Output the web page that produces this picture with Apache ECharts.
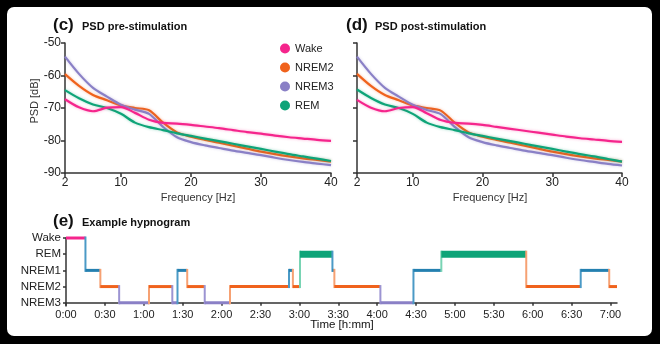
<!DOCTYPE html>
<html><head><meta charset="utf-8">
<script src="https://cdn.jsdelivr.net/npm/echarts@6/dist/echarts.min.js"></script>
<style>html,body{margin:0;padding:0;background:#000;}#c{width:660px;height:344px;}</style>
</head><body><div id="c"></div>
<script>
// ---- PSD data ----
const freqs = [2,4,6,8,10,12,14,16,18,20,22,24,26,28,30,32,34,36,38,40];
const preWake  = [-67.3,-69.8,-71.0,-69.9,-69.7,-71.5,-73.6,-74.6,-74.8,-75.2,-75.7,-76.2,-76.8,-77.4,-77.9,-78.5,-79.0,-79.4,-79.8,-80.1];
const preNREM2 = [-59.6,-63.2,-66.0,-67.6,-69.2,-70.0,-70.7,-74.5,-77.5,-78.8,-79.8,-80.7,-81.6,-82.5,-83.4,-84.2,-84.9,-85.5,-86.0,-86.5];
const preNREM3 = [-54.2,-59.5,-63.8,-66.5,-69.0,-70.5,-71.8,-75.8,-79.0,-80.5,-81.5,-82.3,-83.1,-83.8,-84.5,-85.3,-86.0,-86.6,-87.1,-87.6];
const preREM   = [-64.5,-67.0,-68.9,-70.0,-71.8,-74.5,-75.9,-76.8,-77.8,-78.6,-79.4,-80.2,-81.0,-81.8,-82.6,-83.4,-84.2,-84.9,-85.6,-86.3];
const postWake  = [-67.5,-69.9,-71.0,-70.0,-69.7,-71.6,-73.7,-74.6,-74.8,-75.2,-75.8,-76.4,-77.0,-77.6,-78.2,-78.8,-79.3,-79.7,-80.1,-80.4];
const postNREM2 = [-59.5,-63.2,-66.0,-67.6,-69.2,-70.0,-70.8,-74.5,-77.5,-78.8,-79.8,-80.7,-81.6,-82.5,-83.4,-84.2,-84.9,-85.5,-86.0,-86.5];
const postNREM3 = [-54.2,-59.5,-63.8,-66.5,-69.0,-70.6,-71.9,-75.8,-79.0,-80.5,-81.5,-82.3,-83.1,-83.8,-84.5,-85.3,-86.0,-86.6,-87.2,-87.7];
const postREM   = [-64.3,-66.9,-68.9,-70.0,-71.8,-74.5,-75.9,-76.8,-77.8,-78.6,-79.4,-80.2,-81.0,-81.8,-82.6,-83.4,-84.2,-84.9,-85.7,-86.5];
const psdNames = ['Wake','NREM2','NREM3','REM'];
const freqTicks = [2,10,20,30,40];

// ---- Hypnogram data (minutes) ----
const stageNames = ['NREM3','NREM2','NREM1','REM','Wake'];
const hypStart = [0,15,26.5,41,64,82,86,93.5,107,126.5,172,175,180.5,205.5,207,242.5,268,289.5,355,397,419];
const hypStage = ['Wake','NREM1','NREM2','NREM3','NREM2','NREM3','NREM1','NREM2','NREM3','NREM2','NREM1','NREM2','REM','NREM1','NREM2','NREM3','NREM1','REM','NREM2','NREM1','NREM2'];
const hypEnd = 425;
const timeTicks = [0,30,60,90,120,150,180,210,240,270,300,330,360,390,420];

const colors = {Wake:'#f5258c', NREM2:'#f0621c', NREM3:'#8a80c6', REM:'#0ea478', NREM1:'#2480b0'};
const light = {Wake:'#f77ab8', NREM2:'#f6a173', NREM3:'#9c94d2', REM:'#79d4b4', NREM1:'#4b9ac6'};

const hypData = hypStart.map((s,i)=>{
  const e = i < hypStart.length-1 ? hypStart[i+1] : hypEnd;
  const v = stageNames.indexOf(hypStage[i]);
  const p = i>0 ? stageNames.indexOf(hypStage[i-1]) : -1;
  return [s,e,v,p];
});

const FONT = 'Liberation Sans';
const axisLineStyle = {color:'#333', width:1.5};
function psdX(idx){
  return {type:'value', gridIndex:idx, min:2, max:40,
    axisLine:{lineStyle:axisLineStyle}, splitLine:{show:false},
    axisTick:{customValues:freqTicks, length:4, lineStyle:axisLineStyle},
    axisLabel:{customValues:freqTicks, margin:4, fontFamily:FONT, fontSize:12, color:'#222'}};
}
function psdY(idx, showLabels){
  return {type:'value', gridIndex:idx, min:-90, max:-50, interval:10,
    axisLine:{show:true, lineStyle:axisLineStyle}, splitLine:{show:false},
    axisTick:{show:true, length:4, lineStyle:axisLineStyle},
    axisLabel:{show:showLabels, margin:4, fontFamily:FONT, fontSize:12, color:'#222'}};
}
function psdSeries(idx, arrs){
  return psdNames.map((n,k)=>({
    type:'line', name:n, xAxisIndex:idx, yAxisIndex:idx, showSymbol:false, smooth:0.3,
    data: freqs.map((f,j)=>[f, arrs[k][j]]),
    itemStyle:{color:colors[n]},
    lineStyle:{color:colors[n], width:2.2, shadowBlur:3, shadowColor:colors[n]+'66'},
    z: 2 + (n==='Wake'?3:0)
  }));
}
function txt(x,y,t,size,weight,align,extra){
  return Object.assign({type:'text', x:x, y:y, z:10, style:{text:t, fontFamily:FONT, fontSize:size, fontWeight:weight||'normal',
    fill:'#111', textAlign:align||'left', textVerticalAlign:'middle'}}, extra||{});
}
const chart = echarts.init(document.getElementById('c'), null, {renderer:'canvas'});
chart.setOption({
  animation:false,
  backgroundColor:'transparent',
  grid:[
    {left:65, top:43, width:266, height:130},
    {left:357, top:43, width:265, height:130},
    {left:66, top:238, width:551, height:68}
  ],
  legend:{data:psdNames, orient:'vertical', left:275, top:38, padding:5, itemGap:8, itemWidth:10, itemHeight:10,
    icon:'circle', textStyle:{fontFamily:FONT, fontSize:11, color:'#222'}, itemStyle:{borderWidth:0}},
  xAxis:[psdX(0), psdX(1),
    {type:'value', gridIndex:2, min:0, max:hypEnd,
     axisLine:{lineStyle:axisLineStyle}, splitLine:{show:false},
     axisTick:{customValues:timeTicks, length:3, lineStyle:axisLineStyle},
     axisLabel:{customValues:timeTicks, margin:3, fontFamily:FONT, fontSize:11, color:'#222',
       formatter:v=>Math.floor(v/60)+':'+String(v%60).padStart(2,'0')}}],
  yAxis:[psdY(0,true), psdY(1,false),
    {type:'value', gridIndex:2, min:-0.2, max:4,
     axisLine:{show:true, lineStyle:axisLineStyle}, splitLine:{show:false},
     axisTick:{show:true, customValues:[0,1,2,3,4], length:3, lineStyle:axisLineStyle},
     axisLabel:{customValues:[0,1,2,3,4], margin:5, fontFamily:FONT, fontSize:11.5, color:'#222',
       formatter:v=>stageNames[v]}}],
  graphic:[
    {type:'rect', z:-20, shape:{x:0,y:0,width:660,height:344}, style:{fill:'#000'}},
    {type:'rect', z:-19, shape:{x:7,y:7,width:645,height:329,r:7}, style:{fill:'#fff'}},
    txt(53,25,'(c)',17,'bold'),
    txt(82,27,'PSD pre-stimulation',11,'bold'),
    txt(346,25,'(d)',17,'bold'),
    txt(375,27,'PSD post-stimulation',11,'bold'),
    txt(53,221,'(e)',17,'bold'),
    txt(82,223,'Example hypnogram',11,'bold'),
    txt(198,198,'Frequency [Hz]',11,'normal','center',{style:{text:'Frequency [Hz]',fontFamily:FONT,fontSize:11,fill:'#333',textAlign:'center',textVerticalAlign:'middle'}}),
    txt(490,198,'Frequency [Hz]',11,'normal','center',{style:{text:'Frequency [Hz]',fontFamily:FONT,fontSize:11,fill:'#333',textAlign:'center',textVerticalAlign:'middle'}}),
    {type:'text', x:35, y:101, rotation:Math.PI/2, z:10, style:{text:'PSD [dB]', fontFamily:FONT, fontSize:11, fill:'#333', textAlign:'center', textVerticalAlign:'middle'}},
    txt(342,325,'Time [h:mm]',11.5,'normal','center')
  ],
  series:[
    ...psdSeries(0,[preWake,preNREM2,preNREM3,preREM]),
    ...psdSeries(1,[postWake,postNREM2,postNREM3,postREM]),
    {type:'custom', xAxisIndex:2, yAxisIndex:2, data:hypData, encode:{x:[0,1], y:2},
     renderItem:function(params, api){
       const s=api.value(0), e=api.value(1), v=api.value(2), p=api.value(3);
       const name = stageNames[v];
       const a=api.coord([s,v]), b=api.coord([e,v]);
       const w = name==='REM'?7:3;
       const ch=[];
       if (p>=0){
         const c=api.coord([s,p]);
         const pw = stageNames[p]==='REM'?3.5:1.5;
         const dir = a[1] < c[1] ? -1 : 1;
         ch.push({type:'line', shape:{x1:a[0], y1:c[1]-dir*pw, x2:a[0], y2:a[1]+dir*w/2},
           style:{stroke:light[name], lineWidth:2}});
       }
       ch.push({type:'line', shape:{x1:a[0], y1:a[1], x2:b[0], y2:b[1]}, style:{stroke:colors[name], lineWidth:w}});
       return {type:'group', children:ch};
     }}
  ]
});
</script></body></html>
